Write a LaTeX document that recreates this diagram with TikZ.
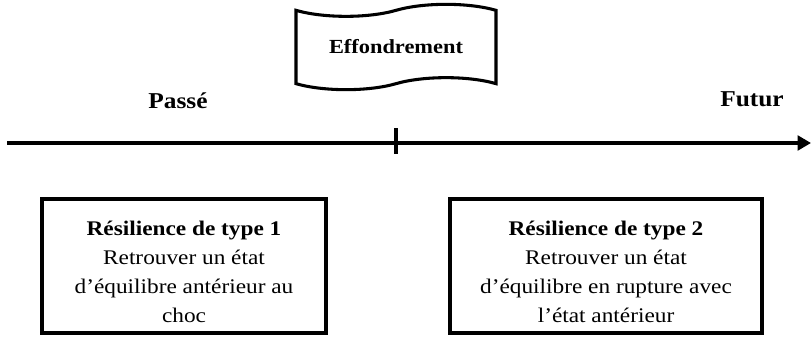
\documentclass[tikz,border=0pt]{standalone}
\usepackage{fontspec}
\setmainfont[FakeStretch=1.12]{Liberation Serif}
\usetikzlibrary{shapes.symbols,arrows.meta}

\tikzset{
  timeline/.style={line width=2.3pt},
  period/.style={font=\fontsize{17}{20}\selectfont\bfseries},
  event/.style={tape,draw,line width=2.3pt,minimum width=150pt,minimum height=64pt,
    tape bend height=9pt,font=\fontsize{15}{18}\selectfont\bfseries},
  kindbox/.style={draw,line width=2.8pt,align=center,inner sep=0pt,
    minimum height=100pt,font=\fontsize{15.6}{21.75}\selectfont},
}

\begin{document}
\begin{tikzpicture}[x=0.75pt,y=-0.75pt]
\useasboundingbox (0,0) rectangle (811,338);
% time axis
\coordinate (past) at (7,143);
\coordinate (future) at (811,143);
\coordinate (now) at (396,143);
\draw[timeline,-{Triangle[length=10pt,width=11pt]}] (past) -- (future);
\draw[timeline] ([yshift=11pt]now) -- ([yshift=-8pt]now);
\node[period] (passe) at (178,101) {Passé};
\node[period] (futur) at (752,99) {Futur};
% collapse
\node[event] (collapse) at (396,47) {Effondrement};
% the two kinds of resilience
\node[kindbox,minimum width=213pt] (type1) at (184,266)
  {\rule{0pt}{19pt}\textbf{Résilience de type 1}\\Retrouver un état\\d’équilibre antérieur au\\choc};
\node[kindbox,minimum width=234pt] (type2) at (606,266)
  {\rule{0pt}{19pt}\textbf{Résilience de type 2}\\Retrouver un état\\d’équilibre en rupture avec\\l’état antérieur};
\end{tikzpicture}
\end{document}
